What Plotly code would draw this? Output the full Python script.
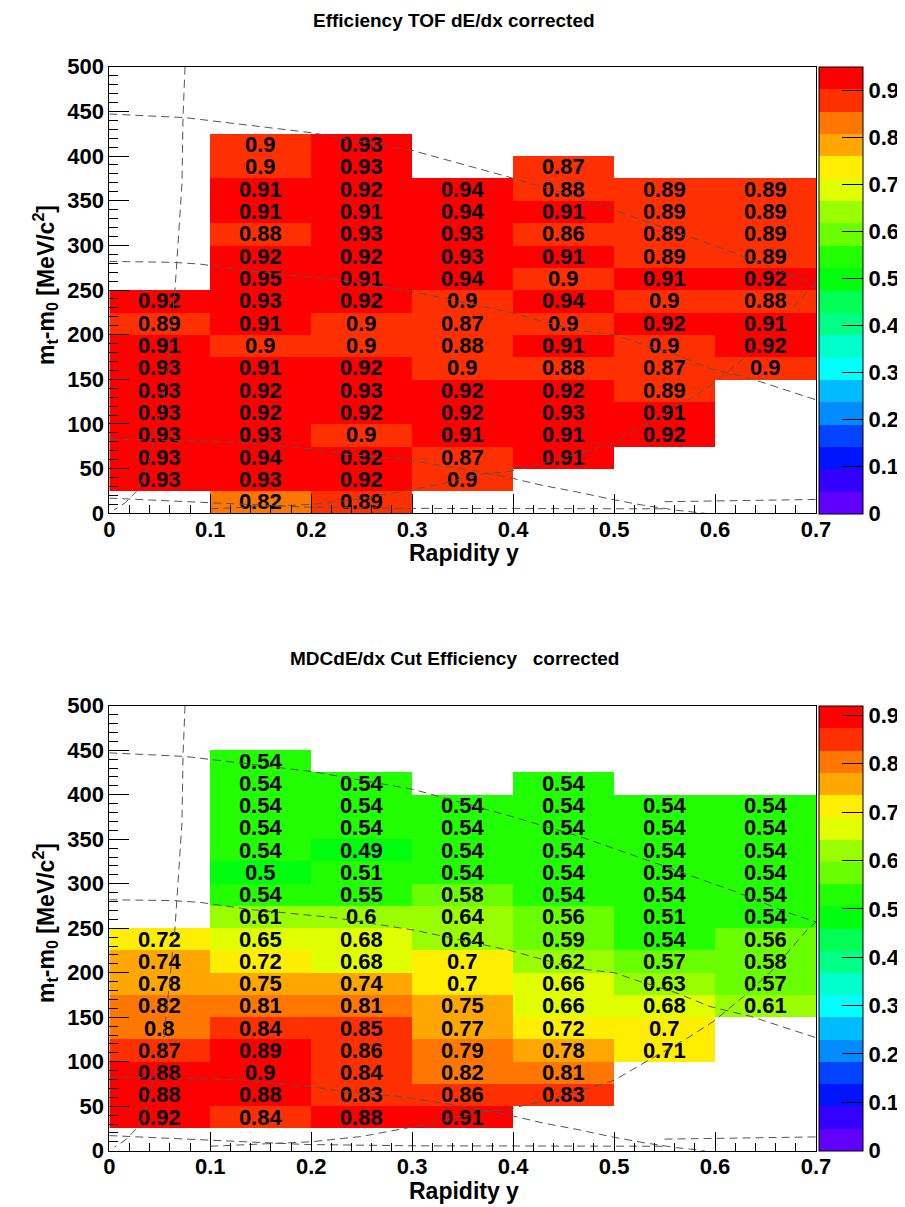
import plotly.graph_objects as go

N = None
# ---------------- data ----------------
rapidity_centers = [0.05, 0.15, 0.25, 0.35, 0.45, 0.55, 0.65]
mt_centers = [12.5 + 25 * k for k in range(20)]  # bin centres of 25 MeV bins, 0..500

# TOF dE/dx efficiency, one list per rapidity bin, listed from mt-m0 = 0 upward
tof_y00 = [N, 0.93, 0.93, 0.93, 0.93, 0.93, 0.93, 0.91, 0.89, 0.92, N, N, N, N, N, N, N, N, N, N]
tof_y01 = [0.82, 0.93, 0.94, 0.93, 0.92, 0.92, 0.91, 0.9, 0.91, 0.93, 0.95, 0.92, 0.88, 0.91, 0.91, 0.9, 0.9, N, N, N]
tof_y02 = [0.89, 0.92, 0.92, 0.9, 0.92, 0.93, 0.92, 0.9, 0.9, 0.92, 0.91, 0.92, 0.93, 0.91, 0.92, 0.93, 0.93, N, N, N]
tof_y03 = [N, 0.9, 0.87, 0.91, 0.92, 0.92, 0.9, 0.88, 0.87, 0.9, 0.94, 0.93, 0.93, 0.94, 0.94, N, N, N, N, N]
tof_y04 = [N, N, 0.91, 0.91, 0.93, 0.92, 0.88, 0.91, 0.9, 0.94, 0.9, 0.91, 0.86, 0.91, 0.88, 0.87, N, N, N, N]
tof_y05 = [N, N, N, 0.92, 0.91, 0.89, 0.87, 0.9, 0.92, 0.9, 0.91, 0.89, 0.89, 0.89, 0.89, N, N, N, N, N]
tof_y06 = [N, N, N, N, N, N, 0.9, 0.92, 0.91, 0.88, 0.92, 0.89, 0.89, 0.89, 0.89, N, N, N, N, N]

# MDC dE/dx cut efficiency
mdc_y00 = [N, 0.92, 0.88, 0.88, 0.87, 0.8, 0.82, 0.78, 0.74, 0.72, N, N, N, N, N, N, N, N, N, N]
mdc_y01 = [N, 0.84, 0.88, 0.9, 0.89, 0.84, 0.81, 0.75, 0.72, 0.65, 0.61, 0.54, 0.5, 0.54, 0.54, 0.54, 0.54, 0.54, N, N]
mdc_y02 = [N, 0.88, 0.83, 0.84, 0.86, 0.85, 0.81, 0.74, 0.68, 0.68, 0.6, 0.55, 0.51, 0.49, 0.54, 0.54, 0.54, N, N, N]
mdc_y03 = [N, 0.91, 0.86, 0.82, 0.79, 0.77, 0.75, 0.7, 0.7, 0.64, 0.64, 0.58, 0.54, 0.54, 0.54, 0.54, N, N, N, N]
mdc_y04 = [N, N, 0.83, 0.81, 0.78, 0.72, 0.66, 0.66, 0.62, 0.59, 0.56, 0.54, 0.54, 0.54, 0.54, 0.54, 0.54, N, N, N]
mdc_y05 = [N, N, N, N, 0.71, 0.7, 0.68, 0.63, 0.57, 0.54, 0.51, 0.54, 0.54, 0.54, 0.54, 0.54, N, N, N, N]
mdc_y06 = [N, N, N, N, N, N, 0.61, 0.57, 0.58, 0.56, 0.54, 0.54, 0.54, 0.54, 0.54, 0.54, N, N, N, N]

tof_zmax = 0.95
mdc_zmax = 0.92

# acceptance curves (dashed)
curveA_x = [0.075, 0.073, 0.072, 0.067, 0.065, 0.060, 0.054, 0.044, 0.036, 0.028, 0.016, 0.005]
curveA_y = [500, 443, 369, 280, 249, 193, 126, 82, 45, 26, 12, 4]
curveB_x = [0.0, 0.075, 0.201, 0.301, 0.394, 0.466, 0.539, 0.618, 0.671, 0.7]
curveB_y = [447, 443, 426, 406, 377, 353, 324, 292, 268, 257]
curveC_x = [0.0, 0.063, 0.09, 0.14, 0.222, 0.301, 0.331, 0.397, 0.461, 0.5, 0.526, 0.56, 0.595, 0.635, 0.7]
curveC_y = [282, 281, 279, 271, 262, 248, 241, 225, 205, 200, 190, 178, 162, 151, 127]
curveD_x = [0.0, 0.126, 0.2, 0.235, 0.288, 0.321, 0.36, 0.4, 0.43, 0.463, 0.496, 0.529, 0.562, 0.59]
curveD_y = [83, 80, 72, 66, 61, 55, 48, 39, 31, 24, 16, 9, 3.4, 0]
curveE_x = [0.1, 0.2, 0.25, 0.288, 0.33, 0.364, 0.397, 0.447, 0.5, 0.533, 0.572, 0.598, 0.628, 0.657, 0.691, 0.7]
curveE_y = [5, 10, 16, 24, 33, 43, 47, 61, 79, 101, 126, 145, 173, 203, 248, 257]
curveF_x = [0.0, 0.095, 0.194, 0.3, 0.45, 0.55]
curveF_y = [17, 12, 7, 5.5, 5.5, 5]
curveG_x = [0.55, 0.6, 0.7]
curveG_y = [13, 14, 15.5]

x_tick_vals = [0, 0.1, 0.2, 0.3, 0.4, 0.5, 0.6, 0.7]
x_tick_text = ["0", "0.1", "0.2", "0.3", "0.4", "0.5", "0.6", "0.7"]
y_tick_vals = [0, 50, 100, 150, 200, 250, 300, 350, 400, 450, 500]
y_tick_text = ["0", "50", "100", "150", "200", "250", "300", "350", "400", "450", "500"]
cbar_tick_vals = [0, 0.1, 0.2, 0.3, 0.4, 0.5, 0.6, 0.7, 0.8, 0.9]
cbar_tick_text = ["0", "0.1", "0.2", "0.3", "0.4", "0.5", "0.6", "0.7", "0.8", "0.9"]

title_top = "Efficiency TOF dE/dx corrected"
title_bot = "MDCdE/dx Cut Efficiency\u00a0\u00a0\u00a0corrected"
x_title = "Rapidity y"
y_title = "m<sub>t</sub>-m<sub>0</sub> [MeV/c<sup>2</sup>]"

# ---------------- style ----------------
FONT = "Liberation Sans, Arial, Helvetica, sans-serif"
palette = ["rgb(98,0,255)", "rgb(51,0,255)", "rgb(0,20,255)", "rgb(0,68,255)", "rgb(0,139,255)",
           "rgb(0,187,255)", "rgb(0,255,253)", "rgb(0,255,204)", "rgb(0,255,133)", "rgb(0,255,85)",
           "rgb(0,255,14)", "rgb(34,255,0)", "rgb(105,255,0)", "rgb(153,255,0)", "rgb(224,255,0)",
           "rgb(255,238,0)", "rgb(255,167,0)", "rgb(255,119,0)", "rgb(255,48,0)", "rgb(255,0,0)"]
nb = len(palette)
cscale = []
for k, c in enumerate(palette):
    cscale.append([k / nb, c])
    cscale.append([(k + 1) / nb, c])

W, H = 905, 1207
OFF = 8  # page body margin of the html page


def px(xp):
    return (xp - OFF) / W


def py(yp):
    return 1 - (yp - OFF) / H


xdom = [px(109.3), px(816)]
ydom_top = [py(513.3), py(66.7)]
ydom_bot = [py(1150.7), py(705.7)]


def to_rows(cols):
    return [[cols[i][j] for i in range(len(cols))] for j in range(len(mt_centers))]


def to_text(rows):
    return [["" if v is None else f"{v:g}" for v in r] for r in rows]


fig = go.Figure()

panels = [
    ([tof_y00, tof_y01, tof_y02, tof_y03, tof_y04, tof_y05, tof_y06], tof_zmax, "x", "y", ydom_top),
    ([mdc_y00, mdc_y01, mdc_y02, mdc_y03, mdc_y04, mdc_y05, mdc_y06], mdc_zmax, "x2", "y2", ydom_bot),
]
for cols, zmax, xa, ya, ydom in panels:
    rows = to_rows(cols)
    fig.add_trace(go.Heatmap(
        x=rapidity_centers, y=mt_centers, z=rows, text=to_text(rows),
        texttemplate="%{text}",
        textfont=dict(family=FONT, size=22, color="black", weight="bold"),
        colorscale=cscale, zmin=0, zmax=zmax, xaxis=xa, yaxis=ya,
        hoverinfo="skip", xgap=0, ygap=0,
        colorbar=dict(
            x=px(819), xanchor="left", xpad=0,
            y=(ydom[0] + ydom[1]) / 2, yanchor="middle",
            len=ydom[1] - ydom[0], lenmode="fraction", ypad=0,
            thickness=44, thicknessmode="pixels",
            outlinewidth=1, outlinecolor="black",
            tickmode="array", tickvals=cbar_tick_vals, ticktext=cbar_tick_text,
            ticks="inside", ticklen=21, tickwidth=1, tickcolor="black",
            tickfont=dict(family=FONT, size=22, color="black", weight="bold"),
        ),
    ))
    for cx, cy in [(curveA_x, curveA_y), (curveB_x, curveB_y), (curveC_x, curveC_y),
                   (curveD_x, curveD_y), (curveE_x, curveE_y), (curveF_x, curveF_y),
                   (curveG_x, curveG_y)]:
        fig.add_trace(go.Scatter(
            x=cx, y=cy, mode="lines", xaxis=xa, yaxis=ya, hoverinfo="skip",
            line=dict(color="rgb(85,85,85)", width=1, dash="8px,5px"),
            showlegend=False,
        ))

tickfont = dict(family=FONT, size=22, color="black", weight="bold")
xcommon = dict(domain=xdom, range=[0, 0.7], tickmode="array", tickvals=x_tick_vals,
               ticktext=x_tick_text, ticks="inside", ticklen=19, tickwidth=1, tickcolor="black",
               minor=dict(tickmode="linear", tick0=0, dtick=0.02, ticks="inside", ticklen=8,
                          tickwidth=1, tickcolor="black", showgrid=False),
               showline=True, linecolor="black", linewidth=1, mirror=True,
               showgrid=False, zeroline=False, tickfont=tickfont, automargin=False,
               ticklabelstandoff=-4)
ycommon = dict(range=[0, 500], tickmode="array", tickvals=y_tick_vals,
               ticktext=y_tick_text, ticks="inside", ticklen=20, tickwidth=1, tickcolor="black",
               minor=dict(tickmode="linear", tick0=0, dtick=10, ticks="inside", ticklen=9,
                          tickwidth=1, tickcolor="black", showgrid=False),
               showline=True, linecolor="black", linewidth=1, mirror=True,
               showgrid=False, zeroline=False, tickfont=tickfont, automargin=False)

fig.update_layout(
    width=W, height=H, margin=dict(l=0, r=0, t=0, b=0, pad=0, autoexpand=False),
    paper_bgcolor="white", plot_bgcolor="white", showlegend=False,
    xaxis=dict(anchor="y", **xcommon),
    yaxis=dict(anchor="x", domain=ydom_top, **ycommon),
    xaxis2=dict(anchor="y2", **xcommon),
    yaxis2=dict(anchor="x2", domain=ydom_bot, **ycommon),
)

ann = []
for ttl, ty in [(title_top, 20), (title_bot, 658)]:
    ann.append(dict(text=f"<b>{ttl}</b>", x=px(454), y=py(ty), xref="paper", yref="paper",
                    xanchor="center", yanchor="middle", showarrow=False,
                    font=dict(family=FONT, size=19, color="black")))
for ty in [553, 1191]:
    ann.append(dict(text=f"<b>{x_title}</b>", x=px(464), y=py(ty), xref="paper", yref="paper",
                    xanchor="center", yanchor="middle", showarrow=False,
                    font=dict(family=FONT, size=23, color="black")))
for ty in [285, 923]:
    ann.append(dict(text=f"<b>{y_title}</b>", x=px(45), y=py(ty), xref="paper", yref="paper",
                    xanchor="center", yanchor="middle", showarrow=False, textangle=-90,
                    font=dict(family=FONT, size=23, color="black")))
fig.update_layout(annotations=ann)

fig.write_html("out.html")
